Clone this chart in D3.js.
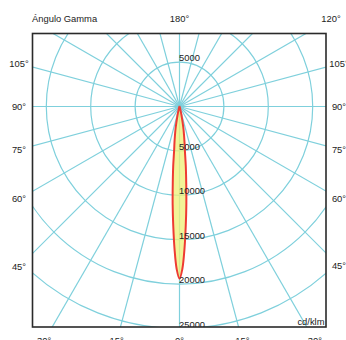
<!DOCTYPE html>
<html>
<head>
<meta charset="utf-8">
<script src="https://cdn.jsdelivr.net/npm/d3@7"></script>
<style>
  html, body { margin: 0; padding: 0; background: #fff; }
  svg { display: block; }
  text { font-family: "Liberation Sans", Arial, sans-serif; fill: #222; }
</style>
</head>
<body>
<svg id="chart" width="346" height="340"></svg>
<script>
// ---- data ----
const gammaDeg  = [0, 1, 2, 3, 4, 5, 6, 7, 8, 9, 10, 11, 12, 13, 14, 15, 20, 25, 30, 45, 60, 90, 120, 150, 180];
const intensity = [19400, 18300, 16050, 13450, 11050, 8700, 6800, 4950, 4050, 3250, 2600, 1900, 1250, 900, 650, 450, 150, 60, 30, 10, 5, 0, 0, 0, 0];
const ringValues = [5000, 10000, 15000, 20000, 25000, 30000];
const ringLabelsBelow = [5000, 10000, 15000, 20000, 25000];
const ringLabelsAbove = [5000];
const spokeStep = 15;
const leftAngleLabels  = [0, 15, 30, 45, 60, 75, 90, 105];
const rightAngleLabels = [15, 30, 45, 60, 75, 90, 105, 120];
const topAngleLabel = 180;
const titleText = "Ángulo Gamma";
const unitText = "cd/klm";

// ---- layout ----
const svg = d3.select("#chart");
const box = { x: 32.5, y: 33.5, w: 293.5, h: 293.5 };
const cx = 179.5, cy = 106.5;
const r = d3.scaleLinear().domain([0, 25000]).range([0, 222]);
const gridColor = "#7fd0dc";
const fs = "9.4px";

svg.append("defs").append("clipPath").attr("id", "clip")
  .append("rect").attr("x", box.x).attr("y", box.y).attr("width", box.w).attr("height", box.h);

const plot = svg.append("g").attr("clip-path", "url(#clip)");
const g = plot.append("g").attr("transform", `translate(${cx},${cy})`);

// curve (gamma 0 pointing down). lineRadial angle: a = PI - gamma (right), PI + gamma (left)
const rad = d => d * Math.PI / 180;
const pts = [];
for (let i = gammaDeg.length - 1; i >= 0; i--) pts.push({ a: Math.PI - rad(gammaDeg[i]), v: intensity[i] });
for (let i = 1; i < gammaDeg.length; i++) pts.push({ a: Math.PI + rad(gammaDeg[i]), v: intensity[i] });
const radial = d3.lineRadial().angle(d => d.a).radius(d => r(d.v)).curve(d3.curveCatmullRomClosed);

// grid rings
g.selectAll("circle.ring").data(ringValues).enter().append("circle")
  .attr("r", d => r(d)).attr("fill", "none")
  .attr("stroke", gridColor).attr("stroke-width", 1.2);

// spokes
const spokes = d3.range(0, 360, spokeStep);
g.selectAll("line.spoke").data(spokes).enter().append("line")
  .attr("x1", 0).attr("y1", 0)
  .attr("x2", d => 400 * Math.sin(rad(d)))
  .attr("y2", d => 400 * Math.cos(rad(d)))
  .attr("stroke", gridColor).attr("stroke-width", 1.2);

// fill + outline
g.append("path").attr("d", radial(pts))
  .attr("fill", "#efef7a").attr("fill-opacity", 0.78).attr("stroke", "none");
g.append("path").attr("d", radial(pts))
  .attr("fill", "none").attr("stroke", "#ee3b33").attr("stroke-width", 2)
  .attr("stroke-linejoin", "round");

// ring labels
g.selectAll("text.below").data(ringLabelsBelow).enter().append("text")
  .attr("x", -0.5).attr("y", d => r(d) - 1).attr("font-size", fs).text(d => d);
g.selectAll("text.above").data(ringLabelsAbove).enter().append("text")
  .attr("x", -0.5).attr("y", d => -r(d) - 1).attr("font-size", fs).text(d => d);

// border
svg.append("rect").attr("x", box.x).attr("y", box.y).attr("width", box.w).attr("height", box.h)
  .attr("fill", "none").attr("stroke", "#2a2a2a").attr("stroke-width", 1.6);

// angle labels: project rays onto label rectangle
const lab = { left: 19, right: 339, top: 19, bottom: 341 };
function labelPos(gDeg, side) {
  const dx = side * Math.sin(rad(gDeg)), dy = Math.cos(rad(gDeg));
  let t = Infinity;
  if (dx > 1e-9) t = Math.min(t, (lab.right - cx) / dx);
  if (dx < -1e-9) t = Math.min(t, (lab.left - cx) / dx);
  if (dy > 1e-9) t = Math.min(t, (lab.bottom - cy) / dy);
  if (dy < -1e-9) t = Math.min(t, (lab.top - cy) / dy);
  return [cx + t * dx, cy + t * dy];
}
const angleLabs = leftAngleLabels.map(a => ({ a, s: -1 }))
  .concat(rightAngleLabels.map(a => ({ a, s: 1 })))
  .concat([{ a: topAngleLabel, s: 1 }]);
svg.selectAll("text.ang").data(angleLabs).enter().append("text")
  .attr("x", d => labelPos(d.a, d.s)[0])
  .attr("y", d => labelPos(d.a, d.s)[1])
  .attr("dy", "0.35em").attr("text-anchor", "middle").attr("font-size", fs)
  .text(d => d.a + "°");

svg.append("text").attr("x", 32).attr("y", 19).attr("dy", "0.35em")
  .attr("font-size", fs).text(titleText);
svg.append("text").attr("x", 324.5).attr("y", 325).attr("text-anchor", "end")
  .attr("font-size", fs).text(unitText);
</script>
</body>
</html>
